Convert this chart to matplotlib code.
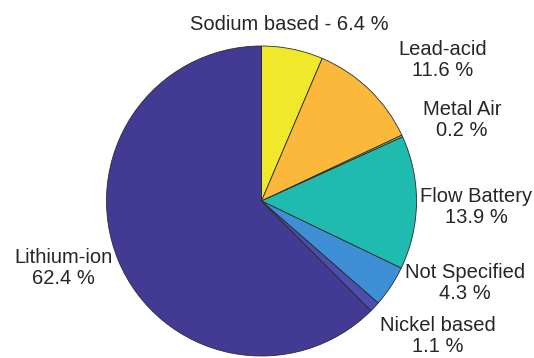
import matplotlib
matplotlib.use("Agg")
import matplotlib.pyplot as plt

# Share of storage technologies (percent), clockwise from 12 o'clock
names = ["Sodium based", "Lead-acid", "Metal Air", "Flow Battery",
         "Not Specified", "Nickel based", "Lithium-ion"]
shares = [6.4, 11.6, 0.2, 13.9, 4.3, 1.1, 62.4]
colors = ["#efe82b", "#fbb83b", "#96c14f", "#1fbbae",
          "#3f8fd6", "#4a4fad", "#423a93"]

# Label anchors (pixel coordinates, text block centres)
label_xy = [(289, 25), (443, 60), (462, 120), (476, 207),
            (465, 283), (438, 336), (63, 268)]

W, H = 534, 358
fig = plt.figure(figsize=(W / 100, H / 100), dpi=100)
ax = fig.add_axes([0, 0, 1, 1])

cx, cy, r = 261.5, H - 201, 155
ax.pie(shares, colors=colors, startangle=90, counterclock=False,
       center=(cx, cy), radius=r,
       wedgeprops=dict(edgecolor="#2b2b2b", linewidth=0.6))

for name, val, (lx, ly) in zip(names, shares, label_xy):
    if name == "Sodium based":
        txt = f"{name} - {val} %"
    else:
        txt = f"{name}\n{val} %"
    ax.text(lx, H - ly, txt, ha="center", va="center", multialignment="center",
            fontsize=14.5, family="Liberation Sans", color="#262626",
            linespacing=1.1)

ax.set_xlim(0, W)
ax.set_ylim(0, H)
ax.set_aspect("auto")
ax.axis("off")

fig.savefig("out.png", dpi=100, facecolor="white")
